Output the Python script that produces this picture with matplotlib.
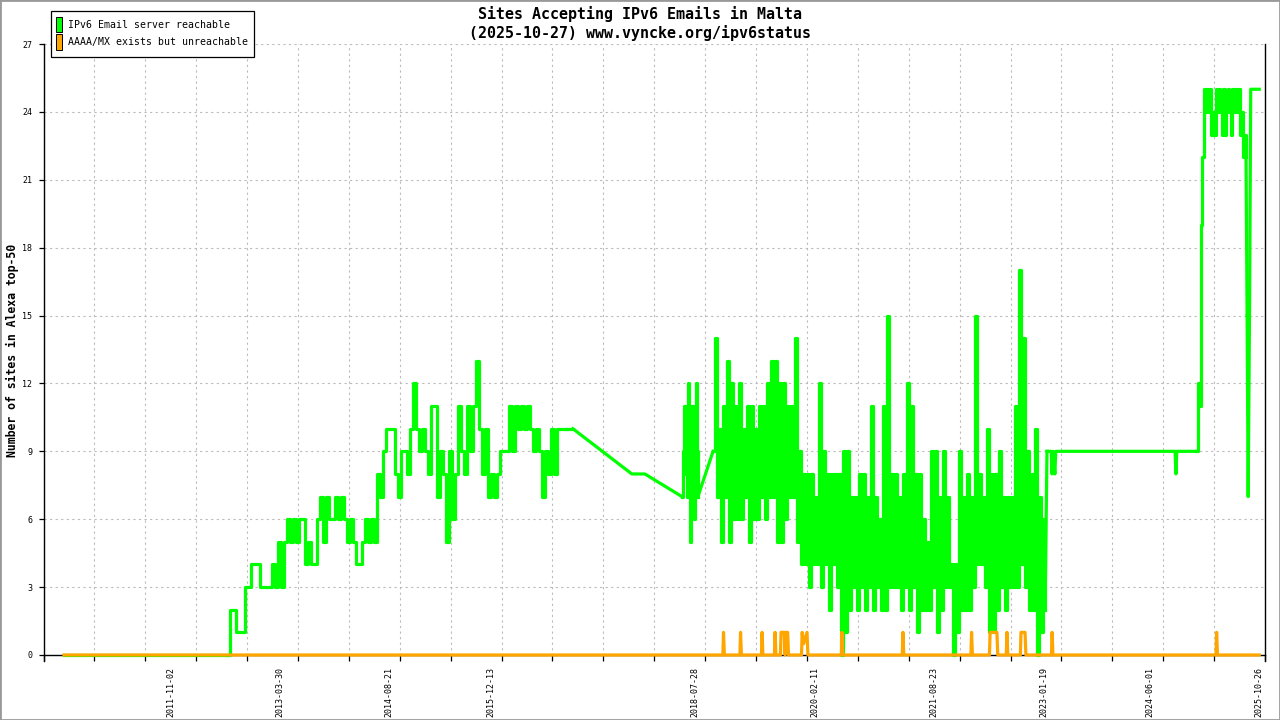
import matplotlib
matplotlib.use("Agg")
import matplotlib.pyplot as plt
import matplotlib.dates as mdates
from matplotlib.patches import Rectangle
import numpy as np
import pandas as pd

MONO = "DejaVu Sans Mono"
GREEN = "#00ff00"
ORANGE = "#ffa500"

# ---- values ----

# nothing reachable at the start
green_start = [("2010-06-19", 0)]

# 2012-07-21 .. 2016-11-28, readings spread evenly
green_early = [
    0, 2, 2, 1, 1, 1, 3, 3, 4, 4,
    4, 3, 3, 3, 3, 4, 3, 5, 3, 5,
    6, 5, 6, 5, 6, 6, 4, 5, 4, 4,
    6, 7, 5, 7, 6, 6, 7, 6, 7, 6,
    5, 6, 5, 4, 4, 5, 6, 5, 6, 5,
    8, 7, 9, 10, 10, 10, 8, 7, 9, 9,
    8, 10, 12, 10, 9, 10, 9, 8, 11, 11,
    7, 9, 8, 5, 9, 6, 8, 11, 9, 8,
    11, 9, 11, 13, 10, 8, 10, 7, 8, 7,
    8, 9, 9, 9, 11, 9, 11, 10, 11, 10,
    11, 10, 9, 10, 9, 7, 9, 8, 10, 8,
    10, 10, 10, 10,
]

# few readings during the 2017 gap
green_gap = [("2017-01-01", 10), ("2017-10-05", 8), ("2017-12-05", 8)]

# 2018-05-28 .. 2018-08-11
green_2018 = [7, 9, 11, 8, 11, 7, 12, 8, 5, 11, 7, 11, 6, 7, 12, 9, 7]

# 2018-10-21 .. 2023-01-26, very noisy (high / low alternating)
green_noisy = [
    9,
    14, 7, 10, 5, 11, 7, 13, 5, 12, 6, 11, 6, 12, 6, 10, 7, 11, 5, 11, 6,
    10, 6, 11, 7, 11, 6, 12, 7, 13, 7, 13, 5, 12, 5, 12, 6, 11, 7, 11, 7,
    14, 5, 9, 4, 8, 4, 8, 3, 8, 4, 7, 4, 12, 3, 9, 4, 8, 2, 8, 4,
    8, 3, 8, 0, 9, 1, 9, 2, 7, 3, 7, 2, 8, 3, 8, 2, 7, 3, 11, 2,
    7, 3, 6, 2, 11, 2, 15, 3, 8, 3, 8, 3, 7, 2, 8, 3, 12, 2, 11, 3,
    8, 1, 8, 2, 6, 2, 5, 2, 9, 3, 9, 1, 7, 2, 9, 3, 7, 3, 4, 0,
    4, 1, 9, 2, 7, 2, 8, 2, 7, 3, 15, 4, 8, 4, 7, 3, 10, 1, 8, 1,
    8, 2, 9, 3, 7, 2, 7, 3, 7, 3, 11, 3, 17, 4, 14, 3, 9, 2, 8, 2,
    10, 0, 7, 1, 6, 2,
]

# 2023 .. 2024 mostly flat
green_flat = [
    ("2023-02-04", 9), ("2023-02-24", 9), ("2023-02-28", 8), ("2023-03-04", 9),
    ("2023-03-13", 8), ("2023-03-17", 9), ("2024-09-27", 9), ("2024-10-01", 8),
    ("2024-10-05", 9),
]

# 2025-01-05 .. 2025-08-26
green_2025 = [
    9, 12, 11, 19, 22, 25, 24, 25, 24, 25, 23, 24, 23, 25, 24, 25, 24,
    23, 25, 23, 24, 25, 24, 23, 25, 24, 25, 24, 25, 23, 24, 22, 23, 22,
]
green_end = [("2025-08-31", 15), ("2025-09-05", 7), ("2025-09-12", 16),
             ("2025-09-17", 25), ("2025-10-27", 25)]

# unreachable AAAA/MX
orange_dates = [
    "2010-06-19", "2018-12-06", "2018-12-09", "2018-12-13", "2019-02-24", "2019-02-27",
    "2019-03-03", "2019-06-05", "2019-06-08", "2019-06-12", "2019-08-05", "2019-08-08",
    "2019-08-12", "2019-09-02", "2019-09-05", "2019-09-20", "2019-09-24", "2019-09-27",
    "2019-10-06", "2019-10-10", "2019-12-10", "2019-12-13", "2019-12-20", "2020-01-05",
    "2020-01-09", "2020-06-14", "2020-06-17", "2020-06-21", "2021-03-27", "2021-03-30",
    "2021-04-03", "2022-02-12", "2022-02-15", "2022-02-19", "2022-05-10", "2022-05-13",
    "2022-06-14", "2022-06-18", "2022-07-28", "2022-07-31", "2022-08-04", "2022-10-02",
    "2022-10-05", "2022-10-24", "2022-10-28", "2023-02-25", "2023-02-28", "2023-03-04",
    "2025-04-07", "2025-04-10", "2025-04-14", "2025-10-27",
]
orange_vals = [
    0, 0, 1, 0, 0, 1,
    0, 0, 1, 0, 0, 1,
    0, 0, 1, 1, 0, 1,
    1, 0, 0, 1, 0.5, 1,
    0, 0, 1, 0, 0, 1,
    0, 0, 1, 0, 0, 1,
    1, 0, 0, 1, 0, 0,
    1, 1, 0, 0, 1, 0,
    0, 1, 0, 0,
]

label_dates = ["2011-11-02", "2013-03-30", "2014-08-21", "2015-12-13", "2018-07-28",
               "2020-02-11", "2021-08-23", "2023-01-19", "2024-06-01", "2025-10-26"]

# ---- assemble green pieces ----
def pts(pairs):
    return [pd.Timestamp(d) for d, _ in pairs], [v for _, v in pairs], "pts"

def run(start, end, vals):
    return list(pd.date_range(start, end, periods=len(vals))), list(vals), "run"

parts = [
    pts(green_start),
    run("2012-07-21", "2016-11-28", green_early),
    pts(green_gap),
    run("2018-05-28", "2018-08-11", green_2018),
    run("2018-10-21", "2023-01-26", green_noisy),
    pts(green_flat),
    run("2025-01-05", "2025-08-26", green_2025),
    pts(green_end),
]

o_dates = pd.to_datetime(orange_dates)

# ---- figure ----
W, H = 1280, 720
fig = plt.figure(figsize=(12.8, 7.2), dpi=100)
ax = fig.add_axes([43.5 / W, 1 - 660.7 / H, (1265 - 43.5) / W, (660.7 - 44) / H])

line_kw = dict(color=GREEN, lw=2.3, zorder=3)
for i, (d, v, kind) in enumerate(parts):
    if kind == "run":
        # daily readings: changes show up as vertical strokes
        ax.plot(d, v, drawstyle="steps-post", **line_kw)
    # straight line joining this piece to the next one
    if i + 1 < len(parts):
        nd, nv, _ = parts[i + 1]
        if kind == "pts":
            ax.plot(d + [nd[0]], v + [nv[0]], **line_kw)
        else:
            ax.plot([d[-1], nd[0]], [v[-1], nv[0]], **line_kw)
    elif kind == "pts":
        ax.plot(d, v, **line_kw)

ax.plot(o_dates, orange_vals, color=ORANGE, lw=2.3, zorder=4)

x0 = mdates.date2num(pd.Timestamp("2010-03-15"))
x1 = mdates.date2num(pd.Timestamp("2025-11-23"))
ax.set_xlim(x0, x1)
ax.set_ylim(-0.252, 27)

ax.spines["top"].set_visible(False)
ax.spines["bottom"].set_position(("data", 0))
for s in ax.spines.values():
    s.set_linewidth(1.0)

# labels sit at their own dates, ticks/grid are evenly spaced
ax.set_xticks(mdates.date2num(pd.to_datetime(label_dates)))
ax.set_xticklabels(label_dates, rotation=90, family=MONO, fontsize=6)
ax.set_xticks(np.linspace(x0, x1, 25), minor=True)
ax.tick_params(axis="x", which="major", length=0, pad=8.6)
ax.tick_params(axis="x", which="minor", direction="out", length=4.3, width=0.9)

ax.set_yticks(range(0, 28, 3))
ax.set_yticklabels([str(v) for v in range(0, 28, 3)], family=MONO, fontsize=6)
ax.tick_params(axis="y", direction="out", length=3.6, width=0.9, pad=4.5)

grid_kw = dict(color="#bbbbbb", lw=0.8, linestyle=(0, (2, 3)))
ax.grid(True, axis="y", which="major", **grid_kw)
ax.grid(True, axis="x", which="minor", **grid_kw)
ax.grid(False, axis="x", which="major")
ax.set_axisbelow(True)

# titles
fig.text(0.5, 1 - 14 / H, "Sites Accepting IPv6 Emails in Malta", ha="center", va="center",
         family=MONO, fontsize=10.8, weight="bold")
fig.text(0.5, 1 - 33 / H, "(2025-10-27) www.vyncke.org/ipv6status", ha="center", va="center",
         family=MONO, fontsize=10.8, weight="bold")
fig.text(12 / W, 1 - 350 / H, "Number of sites in Alexa top-50", rotation=90, ha="center",
         va="center", family=MONO, fontsize=8.3, weight="bold")

# legend box drawn by hand
fig.add_artist(Rectangle((50.7 / W, 1 - 57 / H), 203.6 / W, 46.3 / H, transform=fig.transFigure,
                         facecolor="white", edgecolor="black", lw=0.9, zorder=5))
leg = [(GREEN, "IPv6 Email server reachable", 17.3),
       (ORANGE, "AAAA/MX exists but unreachable", 34.5)]
for col, txt, top in leg:
    fig.add_artist(Rectangle((56 / W, 1 - (top + 15) / H), 6.3 / W, 15 / H,
                             transform=fig.transFigure, facecolor=col, edgecolor="black",
                             lw=0.7, zorder=6))
    fig.text(68 / W, 1 - (top + 8) / H, txt, ha="left", va="center", family=MONO,
             fontsize=7.1, zorder=6)

# grey frame around the picture
fig.add_artist(Rectangle((0, 0), 1, 1, transform=fig.transFigure, fill=False,
                         edgecolor="#999999", lw=2))

fig.savefig("out.png", dpi=100)
